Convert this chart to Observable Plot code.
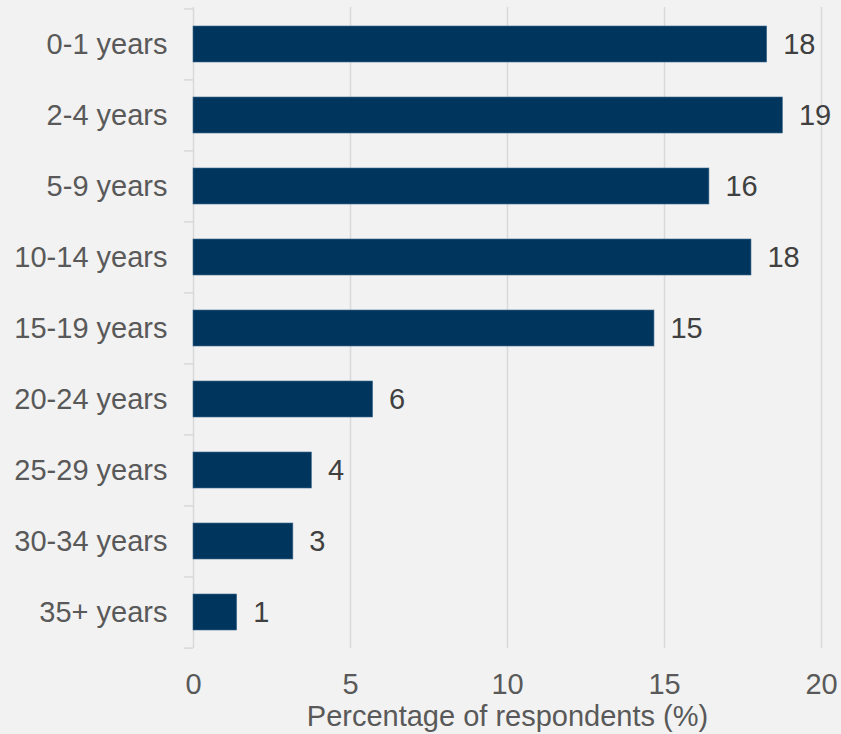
<!DOCTYPE html>
<html>
<head>
<meta charset="utf-8">
<script src="https://cdn.jsdelivr.net/npm/d3@7"></script>
<script src="https://cdn.jsdelivr.net/npm/@observablehq/plot@0.6"></script>
<style>
  html, body { margin: 0; padding: 0; background: #f2f2f2; }
  #chart svg { display: block; }
</style>
</head>
<body>
<div id="chart"></div>
<script>
const categories = ["0-1 years", "2-4 years", "5-9 years", "10-14 years", "15-19 years", "20-24 years", "25-29 years", "30-34 years", "35+ years"];
const values = [18.27, 18.77, 16.43, 17.77, 14.68, 5.72, 3.77, 3.18, 1.39];
const xTicks = [0, 5, 10, 15, 20];
const xLabel = "Percentage of respondents (%)";

const data = categories.map((c, i) => ({category: c, value: values[i], label: String(Math.round(values[i]))}));

const W = 841, H = 734;
const mTop = 7, mBottom = 86, mLeft = 193, mRight = 20;
const step = (H - mTop - mBottom) / categories.length;
const tickLen = 9;
const xPerPx = 20 / (W - mLeft - mRight);

const font = "'Liberation Sans', Arial, sans-serif";
const fs = 29;
const grid = "#d9d9d9";

const chart = Plot.plot({
  width: W,
  height: H,
  marginTop: mTop,
  marginBottom: mBottom,
  marginLeft: mLeft,
  marginRight: mRight,
  style: {background: "#f2f2f2", fontFamily: font, fontSize: fs + "px", color: "#595959"},
  x: {domain: [0, 20], ticks: xTicks},
  y: {domain: categories, paddingInner: 0.5, paddingOuter: 0.25},
  marks: [
    Plot.ruleX(xTicks.filter(t => t > 0), {stroke: grid, strokeWidth: 1.5}),
    Plot.ruleX([0], {stroke: grid, strokeWidth: 1.5}),
    Plot.ruleY(categories, {y: d => d, x1: -tickLen * xPerPx, x2: 0, dy: -step / 2, stroke: grid, strokeWidth: 1.5}),
    Plot.ruleY(categories.slice(-1), {y: d => d, x1: -tickLen * xPerPx, x2: 0, dy: step / 2, stroke: grid, strokeWidth: 1.5}),
    Plot.barX(data, {y: "category", x: "value", fill: "#00365e", stroke: "#3e6a8e", strokeWidth: 0.6}),
    Plot.text(data, {y: "category", x: "value", text: "label", dx: 16, textAnchor: "start", fill: "#404040", fontSize: fs}),
    Plot.axisY({tickSize: 0, tickPadding: 26, fontSize: fs, fill: "#595959", label: null}),
    Plot.axisX({ticks: xTicks, tickSize: 0, tickPadding: 25, fontSize: fs, fill: "#595959", label: null}),
    Plot.text([xLabel], {frameAnchor: "bottom", lineAnchor: "middle", dy: 68, fontSize: fs, fill: "#595959"})
  ]
});
document.getElementById("chart").appendChild(chart);
</script>
</body>
</html>
